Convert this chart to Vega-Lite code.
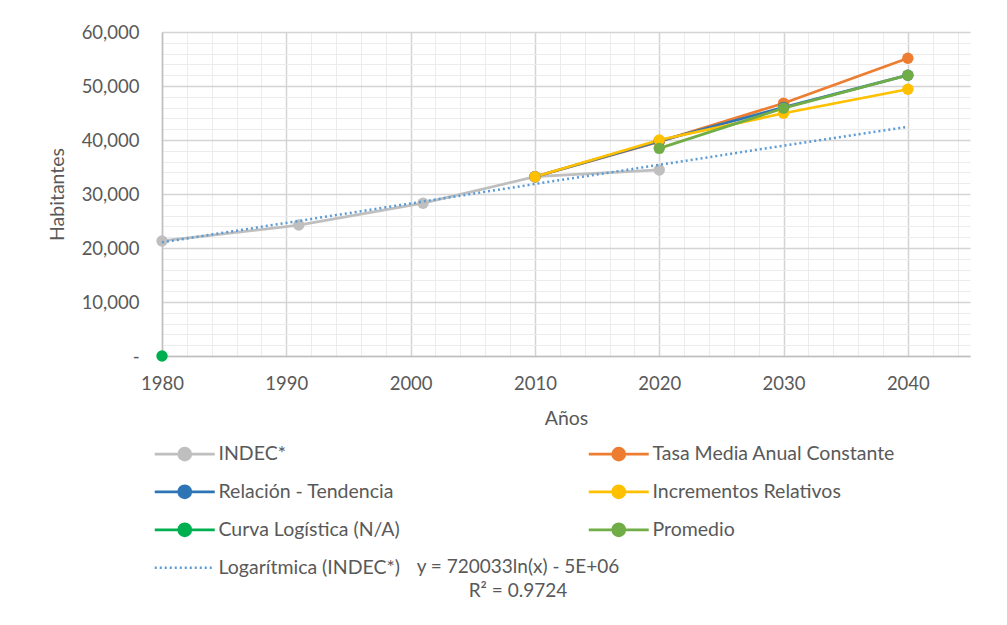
{
  "$schema": "https://vega.github.io/schema/vega-lite/v6.json",
  "width": 808,
  "height": 324,
  "autosize": {"type": "none"},
  "padding": {"left": 162, "top": 32, "right": 37, "bottom": 269},
  "background": "white",
  "config": {
    "font": "Lato",
    "view": {"stroke": null},
    "axis": {"labelColor": "#595959", "titleColor": "#595959", "labelFont": "Lato", "titleFont": "Lato", "titleFontWeight": "normal"},
    "legend": {"labelColor": "#595959", "titleColor": "#595959", "labelFont": "Lato", "titleFont": "Lato", "titleFontWeight": "normal", "padding": 0}
  },
  "datasets": {
    "series": [
      {"serie": "INDEC*", "anio": 1980, "hab": 21300},
      {"serie": "INDEC*", "anio": 1991, "hab": 24250},
      {"serie": "INDEC*", "anio": 2001, "hab": 28300},
      {"serie": "INDEC*", "anio": 2010, "hab": 33200},
      {"serie": "INDEC*", "anio": 2020, "hab": 34450},
      {"serie": "Tasa Media Anual Constante", "anio": 2010, "hab": 33200},
      {"serie": "Tasa Media Anual Constante", "anio": 2020, "hab": 39700},
      {"serie": "Tasa Media Anual Constante", "anio": 2030, "hab": 46800},
      {"serie": "Tasa Media Anual Constante", "anio": 2040, "hab": 55150},
      {"serie": "Relación - Tendencia", "anio": 2010, "hab": 33200},
      {"serie": "Relación - Tendencia", "anio": 2020, "hab": 39800},
      {"serie": "Relación - Tendencia", "anio": 2030, "hab": 46050},
      {"serie": "Relación - Tendencia", "anio": 2040, "hab": 52000},
      {"serie": "Incrementos Relativos", "anio": 2010, "hab": 33200},
      {"serie": "Incrementos Relativos", "anio": 2020, "hab": 40000},
      {"serie": "Incrementos Relativos", "anio": 2030, "hab": 44950},
      {"serie": "Incrementos Relativos", "anio": 2040, "hab": 49400},
      {"serie": "Curva Logística (N/A)", "anio": 1980, "hab": 0},
      {"serie": "Promedio", "anio": 2020, "hab": 38450},
      {"serie": "Promedio", "anio": 2030, "hab": 45900},
      {"serie": "Promedio", "anio": 2040, "hab": 52000}
    ],
    "trend": [
      {"serie": "Logarítmica (INDEC*)", "anio": 1980, "hab": 21050},
      {"serie": "Logarítmica (INDEC*)", "anio": 1990, "hab": 24650},
      {"serie": "Logarítmica (INDEC*)", "anio": 2000, "hab": 28250},
      {"serie": "Logarítmica (INDEC*)", "anio": 2010, "hab": 31850},
      {"serie": "Logarítmica (INDEC*)", "anio": 2020, "hab": 35400},
      {"serie": "Logarítmica (INDEC*)", "anio": 2030, "hab": 38950},
      {"serie": "Logarítmica (INDEC*)", "anio": 2040, "hab": 42450}
    ]
  },
  "layer": [
    {
      "data": {"name": "series"},
      "mark": {"type": "line", "strokeWidth": 2.75, "point": {"filled": true, "size": 130, "opacity": 1}},
      "encoding": {
        "x": {
          "field": "anio", "type": "quantitative",
          "scale": {"domain": [1980, 2045], "nice": false, "zero": false},
          "axis": {
            "title": "Años", "titleFontSize": 19.5, "titlePadding": 17,
            "values": [1980,1982,1984,1986,1988,1990,1992,1994,1996,1998,2000,2002,2004,2006,2008,2010,2012,2014,2016,2018,2020,2022,2024,2026,2028,2030,2032,2034,2036,2038,2040,2042,2044],
            "tickCount": 200,
            "labelExpr": "datum.value % 10 === 0 ? datum.value : ''",
            "labelFontSize": 18.5, "labelPadding": 18,
            "ticks": false,
            "domainColor": "#bfbfbf", "domainWidth": 1.5,
            "grid": true,
            "gridColor": {"condition": {"test": "datum.value % 10 === 0", "value": "#d4d4d4"}, "value": "#ececec"},
            "gridWidth": {"condition": {"test": "datum.value % 10 === 0", "value": 1.5}, "value": 1},
            "labelFlush": false, "labelOverlap": false
          }
        },
        "y": {
          "field": "hab", "type": "quantitative",
          "scale": {"domain": [0, 60000], "nice": false},
          "axis": {
            "title": "Habitantes", "titleFontSize": 19.5, "titlePadding": 14,
            "values": [0,2000,4000,6000,8000,10000,12000,14000,16000,18000,20000,22000,24000,26000,28000,30000,32000,34000,36000,38000,40000,42000,44000,46000,48000,50000,52000,54000,56000,58000,60000],
            "tickCount": 200,
            "labelExpr": "datum.value === 0 ? '-' : (datum.value % 10000 === 0 ? format(datum.value, ',') : '')",
            "labelFontSize": 18.5, "labelPadding": 23,
            "ticks": false,
            "domainColor": "#bfbfbf", "domainWidth": 1.5,
            "grid": true,
            "gridColor": {"condition": {"test": "datum.value % 10000 === 0", "value": "#d4d4d4"}, "value": "#ececec"},
            "gridWidth": {"condition": {"test": "datum.value % 10000 === 0", "value": 1.5}, "value": 1},
            "labelOverlap": false,
            "encode": {"labels": {"update": {"dx": {"signal": "datum.value === 0 ? -12 : 0"}}}}
          }
        },
        "color": {
          "field": "serie", "type": "nominal",
          "scale": {
            "domain": ["INDEC*", "Relación - Tendencia", "Curva Logística (N/A)", "Tasa Media Anual Constante", "Incrementos Relativos", "Promedio"],
            "range": ["#BFBFBF", "#2E75B6", "#00B050", "#ED7D31", "#FFC000", "#70AD47"]
          },
          "legend": {
            "orient": "none", "legendX": 13, "legendY": 412,
            "title": null, "columns": 2, "columnPadding": 183, "rowPadding": 14,
            "labelFontSize": 19.5, "labelOffset": 24, "labelLimit": 400,
            "symbolType": "M-5,0H5M-1,0A1,1 0 1,1 1,0A1,1 0 1,1 -1,0Z",
            "symbolSize": 144, "symbolStrokeWidth": 2.75,
            "encode": {"symbols": {"update": {"fill": {"scale": "color", "field": "value"}, "stroke": {"scale": "color", "field": "value"}, "opacity": {"value": 1}}}}
          }
        },
        "order": {"field": "anio", "type": "quantitative"}
      }
    },
    {
      "data": {"name": "trend"},
      "mark": {"type": "line", "color": "#5B9BD5", "strokeWidth": 2.5},
      "encoding": {
        "x": {"field": "anio", "type": "quantitative"},
        "y": {"field": "hab", "type": "quantitative"},
        "strokeDash": {
          "field": "serie", "type": "nominal",
          "scale": {"domain": ["Logarítmica (INDEC*)"], "range": [[2, 3]]},
          "legend": {
            "orient": "none", "legendX": 13, "legendY": 526,
            "title": ["y = 720033ln(x) - 5E+06", "R² = 0.9724"],
            "titleOrient": "right", "titleAlign": "center", "titleAnchor": "start",
            "titleFontSize": 19, "titleLineHeight": 24, "titlePadding": 118, "titleLimit": 500,
            "labelFontSize": 19.5, "labelOffset": 24, "labelLimit": 400,
            "symbolType": "M-5,0H5", "symbolSize": 144, "symbolStrokeWidth": 2.5,
            "symbolStrokeColor": "#5B9BD5"
          }
        }
      }
    }
  ]
}
